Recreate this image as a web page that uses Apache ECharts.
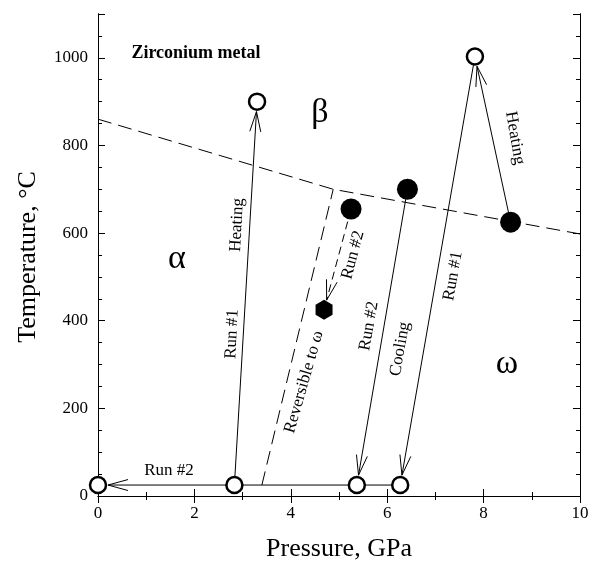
<!DOCTYPE html>
<html>
<head>
<meta charset="utf-8">
<script src="https://cdn.jsdelivr.net/npm/echarts@6/dist/echarts.min.js"></script>
<style>
  html, body { margin: 0; padding: 0; background: #fff; }
  #chart { width: 592px; height: 565px; }
</style>
</head>
<body>
<div id="chart"></div>
<script>
// Phase boundaries (pressure GPa, temperature C)
const boundaryP = [0, 4.88, 10];
const boundaryT = [860, 700, 598];
const reversibleP = [3.40, 4.88];
const reversibleT = [25, 700];

// Measured points
const openP = [0, 2.83, 5.37, 6.27, 3.30, 7.82];
const openT = [25, 25, 25, 25, 900, 1003];
const filledP = [5.25, 6.42, 8.56];
const filledT = [655, 700, 625];
const hexP = [4.69];
const hexT = [425];

// Run paths (from -> to), last one dashed
const arrowFromP = [2.83, 7.82, 8.56, 6.42, 6.27, 5.25];
const arrowFromT = [25, 1003, 625, 700, 25, 655];
const arrowToP = [3.30, 6.27, 7.82, 5.37, 0, 4.69];
const arrowToT = [900, 25, 1003, 25, 25, 425];
const arrowDashed = [0, 0, 0, 0, 0, 1];

const xTicks = [0, 2, 4, 6, 8, 10];
const yTicks = [0, 200, 400, 600, 800, 1000];

const FONT = '"Liberation Serif", "Times New Roman", serif';

const zip = (a, b) => a.map((v, i) => [v, b[i]]);

const arrowData = arrowFromP.map((p, i) =>
    [p, arrowFromT[i], arrowToP[i], arrowToT[i], arrowDashed[i]]);

function renderArrow(params, api) {
    const p1 = api.coord([api.value(0), api.value(1)]);
    const p2 = api.coord([api.value(2), api.value(3)]);
    const dashed = api.value(4) === 1;
    const dx = p2[0] - p1[0], dy = p2[1] - p1[1];
    const len = Math.sqrt(dx * dx + dy * dy);
    const ux = dx / len, uy = dy / len;
    const nx = -uy, ny = ux;
    const tip = [p2[0] - ux * 10, p2[1] - uy * 10];
    const back = [tip[0] - ux * 20, tip[1] - uy * 20];
    const w1 = [back[0] + nx * 5.5, back[1] + ny * 5.5];
    const w2 = [back[0] - nx * 5.5, back[1] - ny * 5.5];
    return {
        type: 'group',
        children: [{
            type: 'line',
            shape: { x1: p1[0], y1: p1[1], x2: tip[0], y2: tip[1] },
            style: { stroke: '#000', lineWidth: 1, lineDash: dashed ? [8, 5] : null }
        }, {
            type: 'polyline',
            shape: { points: [w1, tip, w2] },
            style: { stroke: '#000', fill: null, lineWidth: 1 }
        }]
    };
}

function txt(text, x, y, size, rotDeg, weight) {
    return {
        type: 'text', x: x, y: y,
        rotation: (rotDeg || 0) * Math.PI / 180,
        style: {
            text: text, fill: '#000',
            font: (weight || 'normal') + ' ' + size + 'px ' + FONT,
            align: 'center', verticalAlign: 'middle'
        }
    };
}

const tickStyle = { color: '#000', width: 1 };

function xAx(pos, labels) {
    return {
        type: 'value', position: pos, min: 0, max: 10, interval: 2,
        axisLine: { show: true, lineStyle: { color: '#000', width: 1 } },
        axisTick: { show: true, inside: true, length: 7, lineStyle: tickStyle },
        minorTick: { show: true, splitNumber: 2, length: 4, lineStyle: tickStyle },
        splitLine: { show: false },
        axisLabel: { show: labels, color: '#000', fontFamily: FONT, fontSize: 17, margin: 9 }
    };
}

function yAx(pos, step, len, labels) {
    return {
        type: 'value', position: pos, min: 0, max: 1100, interval: step,
        axisLine: { show: true, lineStyle: { color: '#000', width: 1 } },
        axisTick: { show: true, inside: true, length: len, lineStyle: tickStyle },
        splitLine: { show: false },
        axisLabel: {
            show: labels, color: '#000', fontFamily: FONT, fontSize: 17, margin: 10,
            formatter: v => (yTicks.indexOf(v) >= 0 ? String(v) : '')
        }
    };
}

const chart = echarts.init(document.getElementById('chart'));

const option = {
    backgroundColor: '#fff',
    animation: false,
    grid: { left: 98, right: 12, top: 14, bottom: 69 },
    xAxis: [xAx('bottom', true), xAx('top', false)],
    yAxis: [
        yAx('left', 200, 7, true),
        yAx('left', 50, 4, false),
        yAx('right', 200, 7, false),
        yAx('right', 50, 4, false)
    ],
    series: [{
        type: 'line',
        data: zip(boundaryP, boundaryT),
        symbol: 'none',
        lineStyle: { color: '#000', width: 1, type: [14, 7] },
        z: 2
    }, {
        type: 'line',
        data: zip(reversibleP, reversibleT),
        symbol: 'none',
        lineStyle: { color: '#000', width: 1, type: [14, 7] },
        z: 2
    }, {
        type: 'custom',
        renderItem: renderArrow,
        data: arrowData,
        encode: { x: [0, 2], y: [1, 3] },
        z: 3
    }, {
        type: 'scatter',
        data: zip(openP, openT),
        symbol: 'circle',
        symbolSize: 16,
        itemStyle: { color: '#fff', borderColor: '#000', borderWidth: 2.5, opacity: 1 },
        z: 4
    }, {
        type: 'scatter',
        data: zip(filledP, filledT),
        symbol: 'circle',
        symbolSize: 21,
        itemStyle: { color: '#000', opacity: 1 },
        z: 4
    }, {
        type: 'scatter',
        data: zip(hexP, hexT),
        symbol: 'path://M0,-10 L8.66,-5 L8.66,5 L0,10 L-8.66,5 L-8.66,-5 Z',
        symbolSize: [17, 20],
        itemStyle: { color: '#000', opacity: 1 },
        z: 4
    }],
    graphic: [
        txt('Zirconium metal', 196, 53, 18, 0, 'bold'),
        txt('α', 177, 259, 34),
        txt('β', 320, 113, 34),
        txt('ω', 507, 364, 34),
        txt('Heating', 237, 225, 17, 87),
        txt('Run #1', 232, 334, 17, 87),
        txt('Reversible to ω', 304, 382, 17, 74),
        txt('Run #2', 353, 255, 17, 75),
        txt('Run #2', 369, 326, 17, 80),
        txt('Cooling', 400, 349, 17, 80),
        txt('Run #1', 453, 276, 17, 80),
        txt('Heating', 515, 138, 17, -80),
        txt('Run #2', 169, 471, 17, 0),
        txt('Temperature, °C', 28, 257, 26, 90),
        txt('Pressure, GPa', 339, 549, 26, 0)
    ]
};

chart.setOption(option);
window.addEventListener('resize', () => chart.resize());
</script>
</body>
</html>
